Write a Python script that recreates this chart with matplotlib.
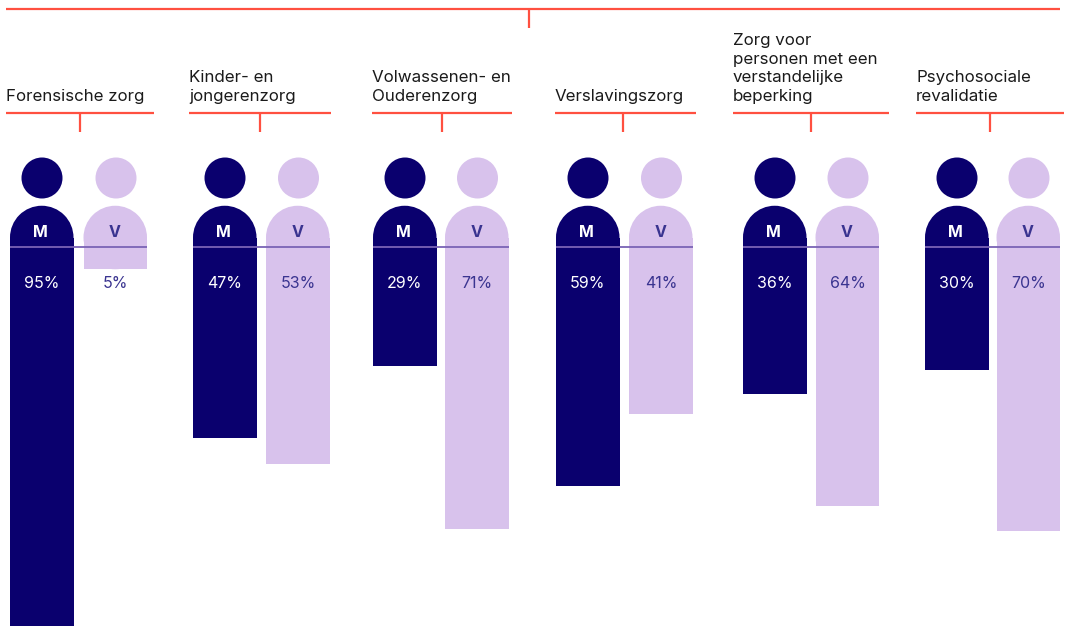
import matplotlib
matplotlib.use('Agg')
import matplotlib.pyplot as plt
from matplotlib.patches import Rectangle, Circle

# Data
groups = ['Forensische zorg', 'Kinder- en\njongerenzorg', 'Volwassenen- en\nOuderenzorg',
          'Verslavingszorg', 'Zorg voor\npersonen met een\nverstandelijke\nbeperking',
          'Psychosociale\nrevalidatie']
men = [95, 47, 29, 59, 36, 30]
women = [5, 53, 71, 41, 64, 70]
# Bar lengths as measured in the picture, they differ a little from the printed labels
men_len = [95, 47.2, 29.4, 59, 36.3, 30.4]
women_len = [5.5, 53.6, 69.6, 41.3, 63.9, 70.1]

# Layout in pixels
W, H = 1066, 626
BASE_Y = 246.5
PX_PER_PCT = 4.06
BAR_W = 63.5
m_left = [10, 193, 373, 556, 743, 925]
v_left = [83.5, 266, 445, 629, 815.5, 996.5]
rule_l = [6, 189, 372, 555, 733, 916]
rule_r = [154, 331, 512, 696, 889, 1064]
tick_x = [80, 260, 442, 623, 811, 990]

NAVY = '#0a006e'
LILAC = '#d8c2ec'
MID = '#7a63b5'
RED = '#ff5040'
INK = '#3a3490'
FONT = 'Inter'

fig = plt.figure(figsize=(W / 100, H / 100), dpi=100)

# Overlay axes for the bars: x in pixels, y in percent below the baseline
ax_bar = fig.add_axes([0, 0, 1, 1])
ax_bar.set_xlim(0, W)
ax_bar.set_ylim((H - BASE_Y) / PX_PER_PCT, -BASE_Y / PX_PER_PCT)
ax_bar.axis('off')
ax_bar.bar(m_left, men_len, width=BAR_W, align='edge', color=NAVY, linewidth=0)
ax_bar.bar(v_left, women_len, width=BAR_W, align='edge', color=LILAC, linewidth=0)

# Pixel axes for everything around the bars
ax = fig.add_axes([0, 0, 1, 1])
ax.set_xlim(0, W)
ax.set_ylim(H, 0)
ax.axis('off')
ax.patch.set_alpha(0)

ax.plot([6, 1060], [9, 9], color=RED, lw=1.6, solid_capstyle='butt')
ax.plot([529, 529], [9, 28], color=RED, lw=1.6, solid_capstyle='butt')


def person(x, color):
    cx = x + BAR_W / 2
    ax.add_patch(Circle((cx, 237.5), BAR_W / 2, color=color, lw=0))
    ax.add_patch(Rectangle((x, 237.5), BAR_W, BASE_Y - 237.5, color=color, lw=0))


for i, name in enumerate(groups):
    ax.text(rule_l[i], 104, name, family=FONT, fontsize=12.2, color='#1a1a1a',
            ha='left', va='bottom', linespacing=1.3)
    ax.plot([rule_l[i], rule_r[i]], [112.5, 112.5], color=RED, lw=1.6, solid_capstyle='butt')
    ax.plot([tick_x[i], tick_x[i]], [112.5, 132], color=RED, lw=1.6, solid_capstyle='butt')

    person(m_left[i], NAVY)
    person(v_left[i], LILAC)
    ax.add_patch(Circle((m_left[i] + 32, 178), 20.5, color=NAVY, lw=0))
    ax.add_patch(Circle((v_left[i] + 32.5, 178), 20.5, color=LILAC, lw=0))

    ax.plot([m_left[i], v_left[i] + BAR_W], [BASE_Y, BASE_Y], color=MID, lw=1.3,
            solid_capstyle='butt')

    ax.text(m_left[i] + 30.5, 232.5, 'M', family=FONT, fontsize=11.5, weight='bold',
            color='white', ha='center', va='center')
    ax.text(v_left[i] + 31.5, 232.5, 'V', family=FONT, fontsize=11.5, weight='bold',
            color=INK, ha='center', va='center')
    ax.text(m_left[i] + 31.5, 283, f'{men[i]}%', family=FONT, fontsize=11.5,
            color='white', ha='center', va='center')
    ax.text(v_left[i] + 32, 283, f'{women[i]}%', family=FONT, fontsize=11.5,
            color=INK, ha='center', va='center')

fig.savefig('out.png', dpi=100)
